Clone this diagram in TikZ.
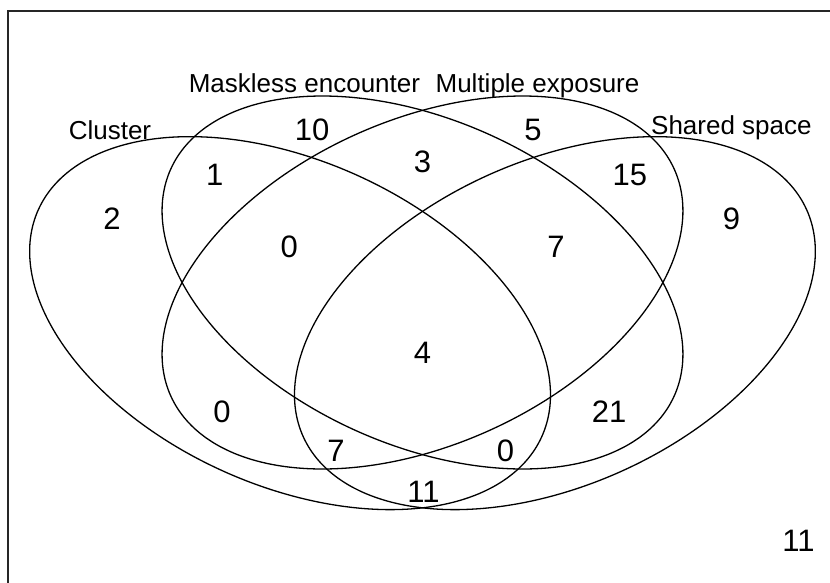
\documentclass[tikz,border=0pt]{standalone}
\usepackage{fontspec}
\setmainfont{Liberation Sans}

\begin{document}
\begin{tikzpicture}[
    x=0.94585pt, y=0.6773pt,
    venn/.style={black, line width=0.65pt},
    setname/.style={anchor=base, inner sep=0pt, font=\fontsize{13}{15}\selectfont},
    count/.style={inner sep=0pt, font=\fontsize{15.5}{18}\selectfont}
]

    % Canvas and frame
    \useasboundingbox (-23.34,-21.10) rectangle (415.42,408.55);
    \clip (-23.34,-21.10) rectangle (415.42,408.55);
    \draw[line width=1.1pt, black!85] (-19.1,-40) rectangle (440,400.4);

    % Ellipses (162 x 108, turned by 45 degrees)
    \foreach \cx/\cy/\sg in {130/170/1, 200/200/1, 200/200/-1, 270/170/-1}
        \draw[venn] plot[domain=0:360, samples=145, smooth]
            ({\cx + \sg*(114.55*cos(\x) + 76.37*sin(\x))}, {\cy - 114.55*cos(\x) + 76.37*sin(\x)});

    % Set names
    \node[setname] (nameC) at (34.8,305.9) {Cluster};
    \node[setname] (nameM) at (137.6,339.9) {Maskless encounter};
    \node[setname] (nameX) at (260.8,339.9) {Multiple exposure};
    \node[setname] (nameS) at (363.3,308.9) {Shared space};

    % Counts
    \node[count] (c)    at (35.9,246.9)  {2};
    \node[count] (m)    at (141.6,312.6) {10};
    \node[count] (x)    at (258.4,312.6) {5};
    \node[count] (s)    at (363.4,246.9) {9};
    \node[count] (cm)   at (90.2,279.7)  {1};
    \node[count] (mx)   at (200,289.0)   {3};
    \node[count] (xs)   at (309.6,279.7) {15};
    \node[count] (cmx)  at (129.6,226.2) {0};
    \node[count] (mxs)  at (270.6,226.2) {7};
    \node[count] (all)  at (200,148.2)   {4};
    \node[count] (cx)   at (94.0,104.4)  {0};
    \node[count] (ms)   at (298.6,104.4) {21};
    \node[count] (cxs)  at (154.3,75.6)  {7};
    \node[count] (cms)  at (243.9,75.6)  {0};
    \node[count] (cs)   at (200.5,45.3)  {11};
    \node[count] (none) at (398.8,9.2)   {11};

\end{tikzpicture}
\end{document}
